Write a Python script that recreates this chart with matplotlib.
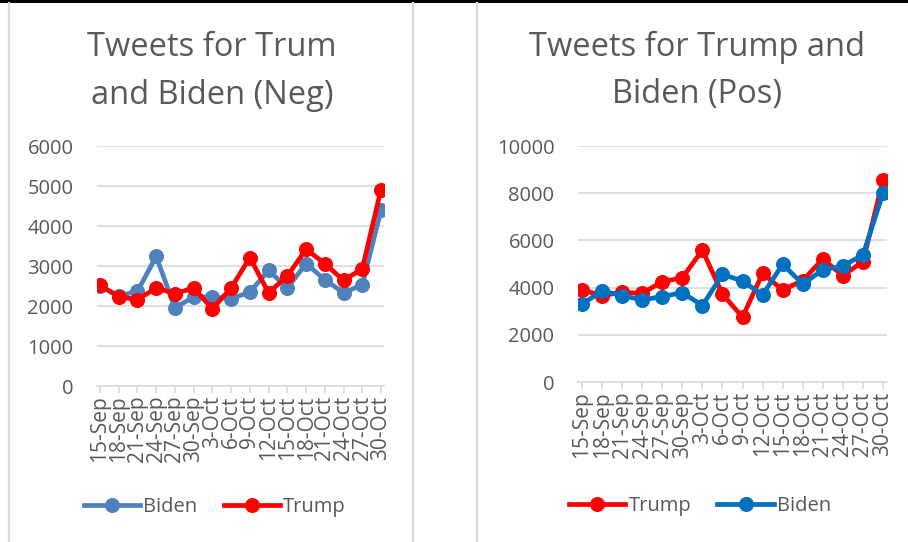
import matplotlib
matplotlib.use("Agg")
import matplotlib.pyplot as plt
from matplotlib.lines import Line2D
from matplotlib.patches import Rectangle

plt.rcParams["font.family"] = ["Open Sans", "DejaVu Sans"]

dates = ["15-Sep", "18-Sep", "21-Sep", "24-Sep", "27-Sep", "30-Sep", "3-Oct", "6-Oct",
         "9-Oct", "12-Oct", "15-Oct", "18-Oct", "21-Oct", "24-Oct", "27-Oct", "30-Oct"]

neg_biden = [2500, 2250, 2370, 3240, 1950, 2230, 2230, 2180,
             2350, 2890, 2450, 3060, 2660, 2330, 2530, 4390]
neg_trump = [2520, 2230, 2160, 2450, 2310, 2450, 1930, 2450,
             3210, 2330, 2750, 3420, 3060, 2640, 2930, 4910]

pos_trump = [3900, 3660, 3800, 3760, 4250, 4420, 5590, 3720,
             2750, 4600, 3900, 4300, 5210, 4510, 5100, 8550]
pos_biden = [3300, 3860, 3660, 3480, 3620, 3790, 3240, 4560,
             4280, 3690, 4990, 4150, 4750, 4920, 5380, 7990]

W, H = 908, 542
GREY = "#595959"
GRID = "#D9D9D9"
STEEL = "#4F81BD"
BLUE = "#0070C0"
RED = "#FF0000"

fig = plt.figure(figsize=(W / 100, H / 100), dpi=100)


def box(x0, y0, x1, y1):
    # pixel box (top-left origin) -> figure fraction rect
    return [x0 / W, 1 - y1 / H, (x1 - x0) / W, (y1 - y0) / H]


# top black strip and panel borders
fig.add_artist(Rectangle((0, 1 - 3 / H), 1, 3 / H, transform=fig.transFigure,
                         color="black", lw=0))
for xp in [8.5, 413, 477]:
    fig.add_artist(Line2D([xp / W, xp / W], [0, 1 - 3 / H], transform=fig.transFigure,
                          color=GRID, lw=1.6))


def style_axes(ax, ymax, step, xlim):
    x = list(range(len(dates)))
    ax.set_xlim(*xlim)
    ax.set_ylim(0, ymax)
    ax.set_yticks(range(0, ymax + 1, step))
    ax.set_xticks(x)
    ax.set_xticklabels(dates, rotation=90)
    for s in ["top", "right", "left"]:
        ax.spines[s].set_visible(False)
    ax.spines["bottom"].set_color(GRID)
    ax.spines["bottom"].set_linewidth(1.2)
    ax.grid(axis="y", color=GRID, lw=1.2)
    ax.set_axisbelow(True)
    ax.tick_params(axis="y", length=0, pad=17, labelsize=14.5, labelcolor=GREY)
    ax.tick_params(axis="x", length=5, color=GRID, width=1.2, pad=2,
                   labelsize=15, labelcolor=GREY)
    for lab in ax.get_xticklabels():
        lab.set_va("top")


line_kw = dict(lw=3.4, marker="o", markersize=9.8)
leg_kw = dict(loc="center", bbox_transform=fig.transFigure, ncol=2, frameon=False,
              fontsize=14.5, handlelength=2.8, columnspacing=1.3, handletextpad=0.15,
              labelcolor=GREY)

# left chart (negative)
ax1 = fig.add_axes(box(97, 146, 384, 386))
x = list(range(len(dates)))
ax1.plot(x, neg_biden, color=STEEL, label="Biden", **line_kw)
ax1.plot(x, neg_trump, color=RED, label="Trump", **line_kw)
style_axes(ax1, 6000, 1000, (-0.16, 15.16))
ax1.legend(bbox_to_anchor=(215 / W, 1 - 507 / H), **leg_kw)

# right chart (positive)
ax2 = fig.add_axes(box(578, 146, 887, 382))
ax2.plot(x, pos_trump, color=RED, label="Trump", **line_kw)
ax2.plot(x, pos_biden, color=BLUE, label="Biden", **line_kw)
style_axes(ax2, 10000, 2000, (-0.2, 15.2))
ax2.legend(bbox_to_anchor=(700 / W, 1 - 506 / H), **leg_kw)

# titles
title_kw = dict(ha="center", va="center", fontsize=23.5, color=GREY)
fig.text(212 / W, 1 - 47 / H, "Tweets for Trum", **title_kw)
fig.text(212 / W, 1 - 95 / H, "and Biden (Neg)", **title_kw)
fig.text(697 / W, 1 - 47 / H, "Tweets for Trump and", **title_kw)
fig.text(697 / W, 1 - 95 / H, "Biden (Pos)", **title_kw)

fig.savefig("out.png", dpi=100)
